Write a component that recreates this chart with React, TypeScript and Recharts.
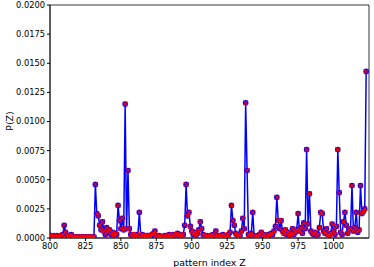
import { LineChart, Line, XAxis, YAxis, ReferenceArea, Label } from 'recharts';

const zStart = 800;
const pValues = [
  // 800-809
  0.0002, 0.0002, 0.0001, 0.0002, 0.0001, 0.0002, 0.0001, 0.0001, 0.0002, 0.0003,
  // 810-819
  0.0011, 0.0005, 0.0002, 0.0001, 0.0002, 0.0003, 0.0001, 0.0001, 0.0001, 0.0001,
  // 820-829
  0.0001, 0.0001, 0.0001, 0.0001, 0.0001, 0.0001, 0.0001, 0.0001, 0.0001, 0.0001,
  // 830-839
  0.0001, 0.0001, 0.0046, 0.0021, 0.0019, 0.0011, 0.0007, 0.0014, 0.0006, 0.0003,
  // 840-849
  0.0009, 0.0005, 0.0007, 0.0003, 0.0005, 0.0002, 0.0004, 0.0003, 0.0028, 0.0015,
  // 850-859
  0.0008, 0.0017, 0.0007, 0.0115, 0.0008, 0.0058, 0.0008, 0.0003, 0.0002, 0.0003,
  // 860-869
  0.0002, 0.0003, 0.0002, 0.0022, 0.0002, 0.0003, 0.0002, 0.0001, 0.0002, 0.0002,
  // 870-879
  0.0002, 0.0001, 0.0003, 0.0004, 0.0006, 0.0002, 0.0001, 0.0002, 0.0001, 0.0001,
  // 880-889
  0.0001, 0.0002, 0.0001, 0.0002, 0.0003, 0.0002, 0.0001, 0.0003, 0.0002, 0.0003,
  // 890-899
  0.0004, 0.0002, 0.0003, 0.0002, 0.0003, 0.0011, 0.0046, 0.0019, 0.0022, 0.0010,
  // 900-909
  0.0006, 0.0003, 0.0005, 0.0002, 0.0004, 0.0007, 0.0014, 0.0008, 0.0003, 0.0002,
  // 910-919
  0.0001, 0.0002, 0.0001, 0.0002, 0.0001, 0.0003, 0.0002, 0.0006, 0.0002, 0.0001,
  // 920-929
  0.0002, 0.0001, 0.0003, 0.0002, 0.0001, 0.0002, 0.0003, 0.0005, 0.0028, 0.0015,
  // 930-939
  0.0011, 0.0004, 0.0002, 0.0003, 0.0002, 0.0006, 0.0017, 0.0008, 0.0116, 0.0058,
  // 940-949
  0.0003, 0.0002, 0.0004, 0.0022, 0.0002, 0.0001, 0.0002, 0.0001, 0.0003, 0.0005,
  // 950-959
  0.0002, 0.0003, 0.0001, 0.0002, 0.0003, 0.0002, 0.0004, 0.0003, 0.0006, 0.0010,
  // 960-969
  0.0035, 0.0015, 0.0008, 0.0015, 0.0006, 0.0004, 0.0007, 0.0003, 0.0005, 0.0002,
  // 970-979
  0.0004, 0.0008, 0.0003, 0.0005, 0.0007, 0.0021, 0.0006, 0.0009, 0.0004, 0.0013,
  // 980-989
  0.0008, 0.0076, 0.0012, 0.0038, 0.0006, 0.0004, 0.0003, 0.0005, 0.0002, 0.0003,
  // 990-999
  0.0009, 0.0022, 0.0021, 0.0006, 0.0004, 0.0008, 0.0003, 0.0002, 0.0004, 0.0012,
  // 1000-1009
  0.0006, 0.0003, 0.0010, 0.0076, 0.0039, 0.0005, 0.0003, 0.0014, 0.0022, 0.0011,
  // 1010-1019
  0.0004, 0.0007, 0.0008, 0.0045, 0.0006, 0.0009, 0.0022, 0.0005, 0.0007, 0.0045,
  // 1020-1023
  0.0021, 0.0023, 0.0025, 0.0143,
];
const xTicks = [800, 825, 850, 875, 900, 925, 950, 975, 1000];
const yTicks = [0, 0.0025, 0.005, 0.0075, 0.01, 0.0125, 0.015, 0.0175, 0.02];

const data = pValues.map((p, i) => ({ z: zStart + i, p }));

const font = 'DejaVu Sans';

const BlueDot = (props: any) => (
  <circle key={`b${props.index}`} cx={props.cx} cy={props.cy} r={2.8} fill="#0000ff" />
);

const RedX = (props: any) => {
  const { cx, cy } = props;
  const s = 2.3;
  return (
    <path
      key={`r${props.index}`}
      d={`M${cx - s},${cy - s}L${cx + s},${cy + s}M${cx - s},${cy + s}L${cx + s},${cy - s}`}
      stroke="#ff0000"
      strokeWidth={1.1}
      fill="none"
    />
  );
};

export default function App() {
  return (
    <div style={{ position: 'absolute', left: 0, top: 0 }}>
      <LineChart width={374} height={267} data={data} margin={{ top: 5, right: 5, bottom: 0, left: 0 }}>
        <XAxis
          dataKey="z"
          type="number"
          domain={[800, 1025]}
          ticks={xTicks}
          allowDataOverflow
          height={29}
          tickSize={3}
          tickLine={{ stroke: '#000' }}
          axisLine={{ stroke: '#000', strokeWidth: 0.8 }}
          tick={{ fill: '#000', fontSize: 8.3, fontFamily: font }}
        >
          <Label value="pattern index Z" position="insideBottom" offset={1} fill="#000" fontSize={9.4} fontFamily={font} />
        </XAxis>
        <YAxis
          type="number"
          domain={[0, 0.02]}
          ticks={yTicks}
          allowDataOverflow
          width={50}
          tickSize={3}
          tickFormatter={(v: number) => v.toFixed(4)}
          tickLine={{ stroke: '#000' }}
          axisLine={{ stroke: '#000', strokeWidth: 0.8 }}
          tick={{ fill: '#000', fontSize: 8.3, fontFamily: font }}
        >
          <Label
            content={() => (
              <text x={9} y={121} transform="rotate(-90 9 121)" textAnchor="middle" dominantBaseline="central" fill="#000" fontSize={9.4} fontFamily={font}>
                P(Z)
              </text>
            )}
          />
        </YAxis>
        <ReferenceArea x1={800} x2={1025} y1={0} y2={0.02} fill="none" stroke="#000" strokeWidth={0.8} />
        <Line dataKey="p" stroke="#0000ff" strokeWidth={1.5} dot={BlueDot} activeDot={false} isAnimationActive={false} />
        <Line dataKey="p" stroke="none" dot={RedX} activeDot={false} isAnimationActive={false} />
      </LineChart>
    </div>
  );
}
